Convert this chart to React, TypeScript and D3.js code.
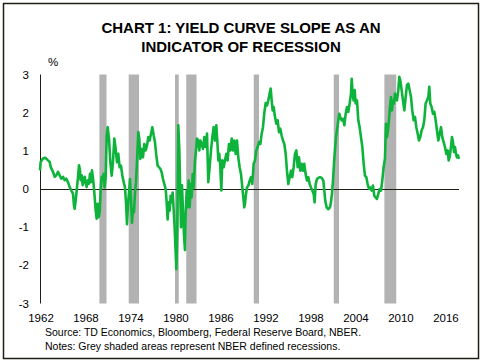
import React from "react";
import * as d3 from "d3";

const W = 483;
const H = 363;

// Yield curve slope (%), [decimal year, value]
const slopeYears: number[] = [
  1962.0,1962.09,1962.4,1962.71,1963.07,1963.29,1963.42,1963.73,1963.96,1964.18,1964.4,1964.62,1964.84,1965.07,1965.29,1965.51,1965.73,1965.96,1966.18,1966.4,1966.53,1966.62,1966.76,1966.89,1967.07,1967.2,1967.33,1967.42,1967.56,1967.69,1967.82,1967.96,1968.09,1968.22,1968.4,1968.53,1968.67,1968.8,1968.93,1969.07,1969.2,1969.29,1969.42,1969.56,1969.69,1969.82,1969.96,1970.09,1970.22,1970.36,1970.49,1970.62,1970.76,
  1970.89,1971.02,1971.2,1971.38,1971.56,1971.73,1971.91,1972.09,1972.27,1972.44,1972.62,1972.8,1972.98,1973.16,1973.33,1973.47,1973.6,1973.73,1973.87,1974.0,1974.13,1974.27,1974.4,1974.53,1974.67,1974.8,1974.93,1975.11,1975.24,1975.38,1975.56,1975.73,1975.91,1976.09,1976.27,1976.44,1976.62,1976.8,1976.98,1977.16,1977.33,1977.51,1977.69,1977.87,1978.04,1978.22,1978.4,1978.58,1978.76,1978.89,1979.02,1979.16,1979.29,1979.42,1979.56,1979.69,1979.82,1979.96,1980.09,1980.18,1980.31,
  1980.44,1980.58,1980.67,1980.8,1980.93,1981.07,1981.2,1981.33,1981.42,1981.56,1981.69,1981.82,1981.96,1982.09,1982.22,1982.36,1982.49,1982.67,1982.8,1982.93,1983.11,1983.24,1983.38,1983.56,1983.73,1983.91,1984.09,1984.27,1984.44,1984.62,1984.8,1984.98,1985.16,1985.33,1985.51,1985.64,1985.78,1985.91,1986.04,1986.18,1986.31,1986.49,1986.67,1986.84,1987.02,1987.2,1987.38,1987.56,1987.73,1987.91,1988.09,1988.27,1988.44,1988.62,1988.8,1988.98,1989.11,1989.24,
  1989.33,1989.47,1989.6,1989.78,1989.96,1990.13,1990.31,1990.49,1990.67,1990.84,1991.02,1991.2,1991.38,1991.56,1991.73,1991.91,1992.09,1992.27,1992.44,1992.62,1992.76,1992.89,1993.02,1993.16,1993.33,1993.51,1993.69,1993.87,1994.04,1994.22,1994.4,1994.58,1994.76,1994.93,1995.11,1995.29,1995.47,1995.64,1995.82,1996.0,1996.18,1996.36,1996.53,1996.71,1996.89,1997.07,1997.24,1997.42,1997.6,1997.78,1997.96,1998.13,1998.31,1998.49,1998.62,
  1998.76,1998.93,1999.11,1999.33,1999.56,1999.78,1999.91,2000.04,2000.22,2000.44,2000.67,2000.8,2000.93,2001.07,2001.2,2001.33,2001.47,2001.6,2001.78,2001.91,2002.04,2002.22,2002.4,2002.58,2002.76,2002.93,2003.11,2003.29,2003.47,2003.56,2003.69,2003.82,2003.96,2004.09,2004.27,2004.44,2004.62,2004.8,2004.98,2005.16,2005.33,2005.51,2005.69,2005.87,2006.04,2006.22,2006.4,2006.58,2006.76,2006.93,2007.11,2007.29,2007.47,2007.64,2007.82,
  2008.0,2008.13,2008.27,2008.4,2008.53,2008.67,2008.8,2008.93,2009.07,2009.2,2009.33,2009.47,2009.6,2009.78,2009.91,2010.04,2010.22,2010.4,2010.58,2010.76,2010.93,2011.11,2011.29,2011.47,2011.64,2011.82,2012.0,2012.18,2012.36,2012.53,2012.71,2012.89,2013.07,2013.24,2013.42,2013.6,2013.78,2013.91,2014.04,2014.22,2014.4,2014.58,2014.76,2014.93,2015.11,2015.29,2015.47,2015.64,2015.82,2016.0,2016.18,2016.36,2016.49,2016.62,2016.8,2016.93,2017.07,2017.2,2017.33,2017.47,2017.6,2017.73,2017.87,
];

const slopeValues: number[] = [
  0.49,0.71,0.80,0.82,0.75,0.71,0.58,0.45,0.32,0.36,0.45,0.36,0.27,0.32,0.23,0.27,0.18,0.05,-0.04,-0.12,-0.43,-0.52,-0.30,-0.04,0.32,0.62,0.49,0.23,0.36,0.10,0.18,0.32,0.18,0.05,0.23,0.14,0.40,0.18,0.49,0.27,0.01,-0.21,-0.56,-0.78,-0.39,-0.74,-0.61,-0.04,0.32,0.23,0.40,0.05,0.32,
  1.40,1.62,1.32,0.70,0.35,0.70,1.32,1.05,0.70,0.92,0.57,0.61,0.35,0.18,0.04,-0.35,-0.92,-0.44,-0.09,0.26,-0.25,-0.88,-0.53,-0.61,-0.09,0.18,0.70,1.49,1.32,0.79,1.05,0.83,1.18,1.01,1.14,1.36,1.27,1.45,1.62,1.40,1.23,0.88,0.61,0.57,0.53,0.44,0.26,0.13,0.0,-0.35,-0.80,-0.35,-0.57,-0.18,-0.35,-0.09,-0.53,-1.04,-1.67,-2.10,-1.04,
  1.67,1.01,0.20,-1.00,0.10,-0.60,-1.20,-1.60,-0.66,-0.04,-0.48,0.22,-0.48,0.13,-0.22,0.39,0.04,0.75,1.01,1.32,1.27,1.01,1.27,1.18,1.05,1.36,1.10,1.45,0.18,0.57,1.01,1.36,1.62,1.27,1.67,1.27,0.75,0.92,0.57,-0.04,0.75,0.57,0.75,0.92,0.75,1.18,1.01,1.32,1.01,1.27,0.92,1.27,0.83,0.57,0.39,0.04,-0.22,-0.48,
  -0.39,-0.13,0.04,0.09,0.22,0.31,0.13,0.66,0.75,1.01,1.10,1.23,1.18,1.45,1.62,1.99,2.25,2.19,2.32,2.50,2.63,2.32,2.06,2.15,1.89,1.71,1.80,1.49,1.58,1.40,1.27,1.18,0.92,0.48,0.13,0.31,0.48,0.31,0.57,0.92,1.01,0.57,0.83,0.48,0.66,0.48,0.66,0.39,0.22,0.31,0.13,0.04,-0.04,-0.13,-0.35,
  0.13,0.26,0.29,0.31,0.29,0.22,-0.04,-0.31,-0.48,-0.53,-0.48,-0.35,-0.13,0.22,0.66,1.01,1.36,1.54,1.80,1.97,1.89,1.80,1.84,1.67,1.97,2.15,2.02,2.24,2.50,2.89,2.50,2.32,2.59,2.24,2.32,1.80,1.62,1.36,1.10,0.66,0.35,0.31,0.13,0.0,0.04,-0.04,0.09,-0.18,-0.22,-0.26,-0.13,0.0,-0.04,0.22,0.57,
  0.80,1.71,1.36,1.54,1.80,2.15,2.41,2.06,2.32,2.24,2.50,2.41,2.32,2.59,2.94,2.85,2.59,2.32,2.06,2.41,2.72,2.76,2.59,2.41,2.06,1.80,1.89,1.62,1.45,1.27,1.36,1.54,1.62,1.80,2.24,2.32,2.41,2.68,2.24,2.15,1.97,2.02,1.80,1.54,1.27,1.45,1.62,1.36,1.23,1.10,0.92,1.01,0.75,0.83,1.10,1.36,1.23,0.97,1.10,0.92,0.83,0.88,0.79,
];

// NBER recessions (decimal years)
const recessionStarts: number[] = [1969.92, 1973.83, 1980.0, 1981.5, 1990.5, 2001.17, 2007.92];
const recessionEnds: number[] = [1970.87, 1975.2, 1980.5, 1982.87, 1991.2, 2001.87, 2009.5];

const xTickYears: number[] = [1962, 1968, 1974, 1980, 1986, 1992, 1998, 2004, 2010, 2016];
const yTickValues: number[] = [-3, -2, -1, 0, 1, 2, 3];

const titleLines: string[] = ["CHART 1: YIELD CURVE SLOPE AS AN", "INDICATOR OF RECESSION"];
const footerLines: string[] = [
  "Source: TD Economics, Bloomberg, Federal Reserve Board, NBER.",
  "Notes: Grey shaded areas represent NBER defined recessions.",
];

const FONT = "'Liberation Sans', Arial, sans-serif";

export default function App() {
  const x = d3.scaleLinear().domain([1962, 2017.87]).range([40, 459]);
  const y = d3.scaleLinear().domain([-3, 3]).range([303.5, 74.5]);

  const points: [number, number][] = slopeYears.map((yr, i) => [yr, slopeValues[i]]);
  const line = d3
    .line<[number, number]>()
    .x((d) => x(d[0]))
    .y((d) => y(d[1]));

  return (
    <svg
      width={W}
      height={H}
      style={{ position: "absolute", left: 0, top: 0, background: "#fff" }}
      fontFamily={FONT}
    >
      <rect x={0} y={0} width={W} height={H} fill="#fff" />
      <rect x={3.5} y={3.5} width={475} height={355} fill="none" stroke="#1f1f14" strokeWidth={1.5} />

      {titleLines.map((t, i) => (
        <text key={t} x={241} y={33 + i * 19} textAnchor="middle" fontSize={15} fontWeight="bold" fill="#000">
          {t}
        </text>
      ))}

      <text x={53} y={66} textAnchor="middle" fontSize={11.5} fill="#000">%</text>

      {recessionStarts.map((s, i) => (
        <rect
          key={s}
          x={x(s)}
          y={y(3)}
          width={x(recessionEnds[i]) - x(s)}
          height={y(-3) - y(3)}
          fill="#b2b2b2"
        />
      ))}

      <line x1={40.5} x2={40.5} y1={y(3)} y2={y(-3)} stroke="#1f1f14" strokeWidth={1} />
      <line x1={40} x2={459} y1={Math.round(y(0)) + 0.5} y2={Math.round(y(0)) + 0.5} stroke="#1f1f14" strokeWidth={1} />

      <path d={line(points) || ""} fill="none" stroke="#0db33a" strokeWidth={2.6} strokeLinejoin="round" />

      {yTickValues.map((v) => (
        <text key={v} x={29} y={y(v) + 4} textAnchor="end" fontSize={11.5} fill="#000">
          {v}
        </text>
      ))}

      {xTickYears.map((yr) => (
        <text key={yr} x={x(yr) + 1} y={322} textAnchor="middle" fontSize={11.5} fill="#000">
          {yr}
        </text>
      ))}

      {footerLines.map((t, i) => (
        <text key={t} x={45} y={336 + i * 14} fontSize={10.5} fill="#000">
          {t}
        </text>
      ))}
    </svg>
  );
}
